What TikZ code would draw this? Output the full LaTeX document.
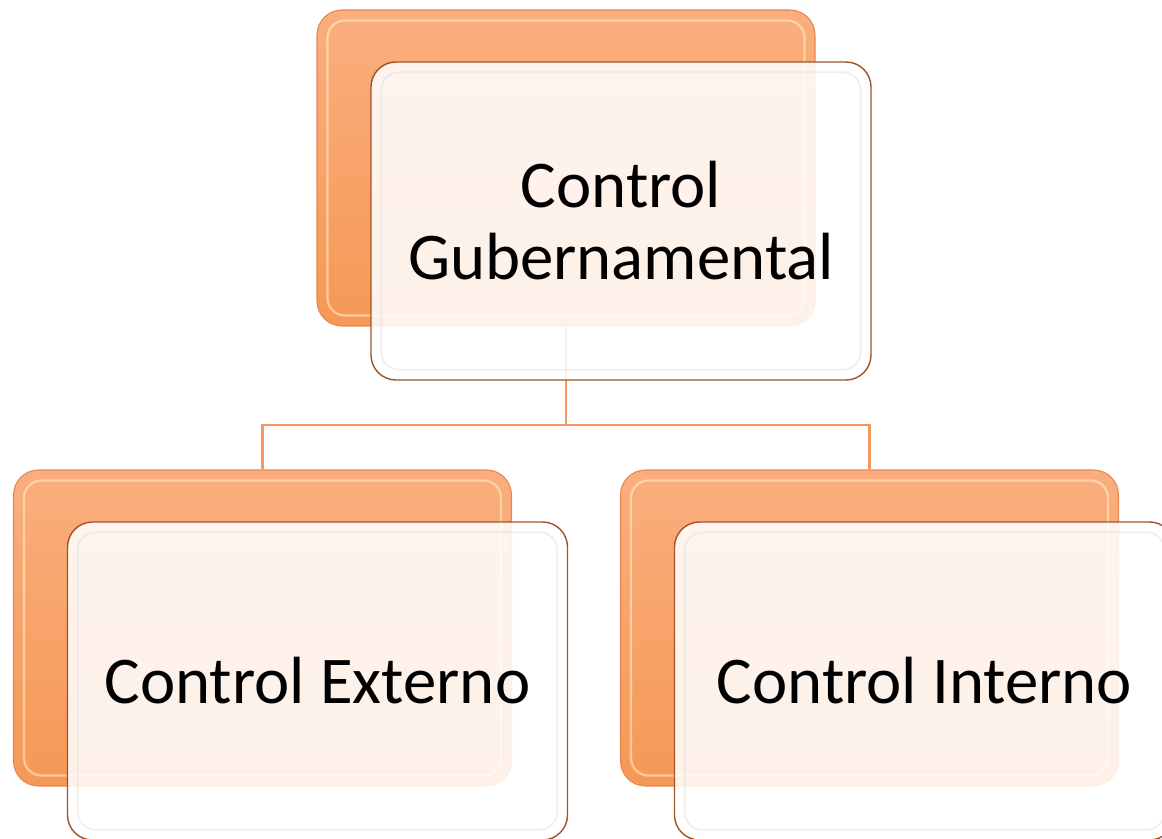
\documentclass[tikz,border=0pt]{standalone}
\usepackage{fontspec}
\setmainfont{Carlito}
\usetikzlibrary{calc}
\usetikzlibrary{positioning}

\definecolor{naranjaclaro}{RGB}{250,174,126}
\definecolor{naranjaosc}{RGB}{246,152,86}
\definecolor{borde}{RGB}{228,136,82}
\definecolor{marron}{RGB}{158,86,40}
\definecolor{linea}{RGB}{246,150,100}
\definecolor{crema}{RGB}{255,244,200}

\tikzset{
    caja/.style={rounded corners=0.5cm, minimum width=9.96cm, minimum height=6.32cm,
        top color=naranjaclaro, bottom color=naranjaosc, draw=borde, line width=0.6pt},
    tarjeta/.style={rounded corners=0.5cm, minimum width=10cm, minimum height=6.36cm,
        fill=white, fill opacity=0.87, text opacity=1, draw=marron, line width=0.8pt,
        align=center, font=\fontsize{38}{41}\selectfont},
    brillo/.style={rounded corners=0.35cm, draw=crema, line width=1.3pt, opacity=0.55},
    conector/.style={draw=linea, line width=1.3pt}
}

\begin{document}
\begin{tikzpicture}
        \useasboundingbox (0,0) rectangle (23.24,-16.78);
        \clip (0,0) rectangle (23.24,-16.78);

        %KOORDINAT
        \coordinate (G) at (11.32,-3.36);
        \coordinate (E) at (5.25,-12.56);
        \coordinate (I) at (17.39,-12.56);
        \coordinate (bus) at (11.32,-8.5);

        %CAJAS ATRAS
        \node[caja] (gubAtras) at (G) {};
        \node[caja] (extAtras) at (E) {};
        \node[caja] (intAtras) at (I) {};
        \foreach \n in {gubAtras,extAtras,intAtras}
            \draw[brillo] ([shift={(0.22,0.22)}]\n.south west) rectangle ([shift={(-0.22,-0.22)}]\n.north east);

        %CONECTORES
        \draw[conector] (gubAtras.south) -- (gubAtras.south |- bus) -| (extAtras.north);
        \draw[conector] (gubAtras.south |- bus) -| (intAtras.north);

        %TARJETAS
        \node[tarjeta] (gub) at ($(G)+(1.1,-1.06)$) {Control\\Gubernamental};
        \node[tarjeta] (ext) at ($(E)+(1.1,-1.06)$) {Control Externo};
        \node[tarjeta] (int) at ($(I)+(1.1,-1.06)$) {Control Interno};
        \foreach \n in {gub,ext,int}
            \draw[brillo, draw=gray!30, opacity=0.4, line width=1pt] ([shift={(0.22,0.22)}]\n.south west) rectangle ([shift={(-0.22,-0.22)}]\n.north east);
    \end{tikzpicture}
\end{document}
